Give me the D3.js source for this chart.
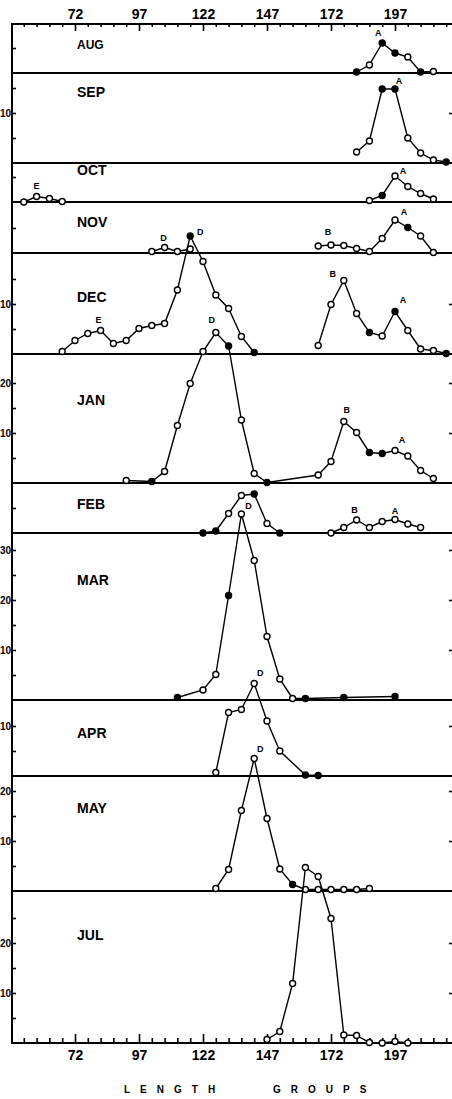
<!doctype html>
<html>
<head>
<meta charset="utf-8"/>
<script src="https://cdn.jsdelivr.net/npm/d3@7"></script>
<style>
	body { margin: 0; background: #fff; }
	svg { display: block; font-family: "Liberation Sans", Arial, sans-serif; }
	.tick text { font-weight: bold; }
</style>
</head>
<body>
<div id="chart"></div>
<script>
var width = 452, height = 1099;

// months, top panel first
var months = ["AUG", "SEP", "OCT", "NOV", "DEC", "JAN", "FEB", "MAR", "APR", "MAY", "JUL"];

// length group and percent frequency for each month (null = gap in the line)
// solid: 1 = filled circle, 0 = open circle
var augLen = [182, 187, 192, 197, 202, 207, 212];
var augPct = [0.2, 1.6, 6.0, 4.0, 3.2, 0.2, 0.3];
var augSolid = [1, 0, 1, 1, 0, 1, 0];

var sepLen = [182, 187, 192, 197, 202, 207, 212, 217];
var sepPct = [2.2, 4.4, 14.8, 14.8, 5.0, 2.0, 0.6, 0.2];
var sepSolid = [0, 0, 1, 1, 0, 0, 0, 1];

var octLen = [52, 57, 62, 67, 120, 187, 192, 197, 202, 207, 212];
var octPct = [0.0, 1.1, 0.7, 0.1, null, 0.3, 1.3, 5.2, 3.1, 1.7, 0.6];
var octSolid = [0, 0, 0, 0, 0, 0, 1, 0, 0, 0, 0];

var novLen = [102, 107, 112, 117, 140, 167, 172, 177, 182, 187, 192, 197, 202, 207, 212];
var novPct = [0.3, 1.1, 0.3, 0.8, null, 1.4, 1.6, 1.5, 0.9, 0.3, 2.9, 6.6, 5.1, 3.4, 0.1];
var novSolid = [0, 0, 0, 0, 0, 0, 0, 0, 0, 0, 0, 0, 1, 0, 0];

var decLen = [67, 72, 77, 82, 87, 92, 97, 102, 107, 112, 117, 122, 127, 132, 137, 142, 155,
	167, 172, 177, 182, 187, 192, 197, 202, 207, 212, 217];
var decPct = [0.5, 2.7, 4.1, 4.7, 2.1, 2.7, 5.1, 5.7, 6.1, 12.8, 23.6, 18.5, 11.8, 9.1, 3.5, 0.3, null,
	1.7, 9.9, 14.7, 8.1, 4.3, 3.6, 8.5, 4.7, 1.0, 0.7, 0.1];
var decSolid = [0, 0, 0, 0, 0, 0, 0, 0, 0, 0, 1, 0, 0, 0, 0, 1, 0,
	0, 0, 0, 0, 1, 0, 1, 0, 0, 0, 1];

var janLen = [92, 102, 107, 112, 117, 122, 127, 132, 137, 142, 147, 167, 172, 177, 182, 187, 192, 197, 202, 207, 212];
var janPct = [0.5, 0.3, 2.3, 11.5, 19.9, 26.3, 30.1, 27.4, 12.6, 1.9, 0.1, 1.6, 4.3, 12.3, 10.1, 6.1, 5.9, 6.5, 5.4, 2.5, 0.9];
var janSolid = [0, 1, 0, 0, 0, 0, 0, 1, 0, 0, 1, 0, 0, 0, 0, 1, 1, 0, 0, 0, 0];

var febLen = [122, 127, 132, 137, 142, 147, 152, 162, 172, 177, 182, 187, 192, 197, 202, 207];
var febPct = [0.0, 0.4, 3.9, 7.5, 7.8, 1.9, 0.0, null, 0.0, 1.1, 2.6, 1.1, 2.3, 2.7, 1.8, 1.1];
var febSolid = [1, 1, 0, 0, 1, 0, 1, 0, 0, 0, 0, 0, 0, 0, 0, 0];

var marLen = [112, 122, 127, 132, 137, 142, 147, 152, 157, 162, 177, 197];
var marPct = [0.5, 2.0, 5.1, 20.9, 37.2, 27.9, 12.7, 4.2, 0.3, 0.3, 0.5, 0.7];
var marSolid = [1, 0, 0, 1, 0, 0, 0, 0, 0, 1, 1, 1];

var aprLen = [127, 132, 137, 142, 147, 152, 162, 167];
var aprPct = [0.7, 12.7, 13.3, 18.5, 11.0, 5.0, 0.2, 0.1];
var aprSolid = [0, 0, 0, 0, 0, 0, 1, 1];

var mayLen = [127, 132, 137, 142, 147, 152, 157, 162, 167, 172, 177, 182, 187];
var mayPct = [0.5, 4.3, 16.1, 26.5, 14.5, 4.4, 1.3, 0.3, 0.3, 0.3, 0.3, 0.3, 0.5];
var maySolid = [0, 0, 0, 0, 0, 0, 1, 0, 0, 0, 0, 0, 0];

var julLen = [147, 152, 157, 162, 167, 172, 177, 182, 187, 192, 197, 202];
var julPct = [0.7, 2.3, 11.9, 35.1, 33.3, 24.9, 1.6, 1.5, 0.1, 0.0, 0.3, 0.0];
var julSolid = [0, 0, 0, 0, 0, 0, 0, 0, 0, 0, 0, 0];

// letters marking the modes
var peakMonth = ["AUG", "SEP", "OCT", "OCT", "NOV", "NOV", "NOV", "DEC", "DEC", "DEC", "DEC",
	"JAN", "JAN", "JAN", "FEB", "FEB", "MAR", "APR", "MAY"];
var peakLetter = ["A", "A", "E", "A", "D", "B", "A", "E", "D", "B", "A",
	"D", "B", "A", "B", "A", "D", "D", "D"];
var peakLen = [192, 197, 57, 197, 107, 172, 197, 82, 117, 177, 197,
	127, 177, 197, 182, 197, 137, 142, 142];

var xTickMajor = [72, 97, 122, 147, 172, 197];
var xTickMinor = [52, 57, 62, 67, 77, 82, 87, 92, 102, 107, 112, 117, 127, 132, 137, 142,
	152, 157, 162, 167, 177, 182, 187, 192, 202, 207, 212, 217];

var series = [
	{len: augLen, pct: augPct, solid: augSolid},
	{len: sepLen, pct: sepPct, solid: sepSolid},
	{len: octLen, pct: octPct, solid: octSolid},
	{len: novLen, pct: novPct, solid: novSolid},
	{len: decLen, pct: decPct, solid: decSolid},
	{len: janLen, pct: janPct, solid: janSolid},
	{len: febLen, pct: febPct, solid: febSolid},
	{len: marLen, pct: marPct, solid: marSolid},
	{len: aprLen, pct: aprPct, solid: aprSolid},
	{len: mayLen, pct: mayPct, solid: maySolid},
	{len: julLen, pct: julPct, solid: julSolid}
];

// ---- layout ----
var plotLeft = 12, plotRight = 452, plotTop = 24;
var pxPerUnit = 5;
// height of each panel, in percent units
var span = [9.8, 18, 7.8, 10.2, 20.2, 25.8, 10, 33.4, 15.2, 23, 30.4];
// month name: distance from top of panel to middle of text
var nameDrop = [21, 19, 7, 20, 44, 46, 21, 47, 33, 32, 44];
// letter offsets from their point
var peakDx = [-4, 4, 0, 8, -1, -3, 9, -2, 10, -11, 8, -4, 3, 7, -2, 0, 7, 6, 6];
var peakDy = [-10, -8, -11, -5, -10, -13, -8, -11, -4, -7, -12, -13, -12, -11, -10, -9, -8, -11, -10];

var base = [];
var acc = plotTop;
span.forEach(function(s) { acc += s * pxPerUnit; base.push(acc); });
var plotBottom = base[base.length - 1];

var x = d3.scaleLinear().domain([72, 197]).range([75, 395]);

var svg = d3.select("#chart").append("svg")
	.attr("width", width)
	.attr("height", height)
	.style("background", "#fff");

// frame lines
svg.append("line").attr("x1", plotLeft).attr("x2", plotRight).attr("y1", plotTop).attr("y2", plotTop)
	.attr("stroke", "#000").attr("stroke-width", 2);
svg.append("line").attr("x1", plotLeft).attr("x2", plotLeft).attr("y1", plotTop - 1).attr("y2", plotBottom + 1)
	.attr("stroke", "#000").attr("stroke-width", 2);

// top axis
svg.append("g").attr("transform", "translate(0," + plotTop + ")")
	.call(d3.axisTop(x).tickValues(xTickMinor).tickSize(-3).tickFormat(""));
svg.append("g").attr("transform", "translate(0," + plotTop + ")")
	.call(d3.axisTop(x).tickValues(xTickMajor).tickSize(-7).tickPadding(5))
	.style("font-size", "14px");

// bottom axis
svg.append("g").attr("transform", "translate(0," + plotBottom + ")")
	.call(d3.axisBottom(x).tickValues(xTickMinor).tickSize(-5).tickFormat(""));
svg.append("g").attr("transform", "translate(0," + plotBottom + ")")
	.call(d3.axisBottom(x).tickValues(xTickMajor).tickSize(-9).tickPadding(7))
	.style("font-size", "14px");

svg.selectAll(".domain").remove();
svg.selectAll(".tick line").attr("stroke", "#000").attr("stroke-width", 1.6);
svg.selectAll(".tick text").attr("fill", "#000");

var line = d3.line()
	.defined(function(d) { return d.p != null; })
	.x(function(d) { return x(d.l); })
	.y(function(d) { return d.y; });

months.forEach(function(m, i) {
	var b = base[i];
	var y = d3.scaleLinear().domain([0, span[i]]).range([b, b - span[i] * pxPerUnit]);

	// baseline of the panel
	svg.append("line").attr("x1", plotLeft).attr("x2", plotRight).attr("y1", b).attr("y2", b)
		.attr("stroke", "#000").attr("stroke-width", 2);

	// y ticks at left
	var tv = d3.range(5, span[i] - 1, 5);
	var ly = svg.append("g").attr("transform", "translate(" + plotLeft + ",0)")
		.call(d3.axisLeft(y).tickValues(tv).tickSize(-4).tickPadding(1)
			.tickFormat(function(d) { return d % 10 === 0 ? d : ""; }))
		.style("font-size", "10px");
	ly.select(".domain").remove();
	ly.selectAll(".tick line").attr("stroke", "#000").attr("stroke-width", 1.6);
	ly.selectAll(".tick text").attr("fill", "#000");

	// small marks at right edge
	var ry = svg.append("g").attr("transform", "translate(" + plotRight + ",0)")
		.call(d3.axisLeft(y).tickValues(tv.filter(function(d) { return d % 10 === 0; })).tickSize(3).tickFormat(""));
	ry.select(".domain").remove();
	ry.selectAll(".tick line").attr("stroke", "#000").attr("stroke-width", 1.6);

	// month name
	svg.append("text")
		.attr("x", 77)
		.attr("y", b - span[i] * pxPerUnit + nameDrop[i])
		.attr("dy", "0.36em")
		.style("font-size", i === 0 ? "12px" : "14px")
		.style("font-weight", "bold")
		.text(m);

	var s = series[i];
	var pts = s.len.map(function(l, k) {
		return {l: l, p: s.pct[k], y: s.pct[k] == null ? 0 : y(s.pct[k]), solid: s.solid[k]};
	});

	svg.append("path")
		.attr("d", line(pts))
		.attr("fill", "none")
		.attr("stroke", "#000")
		.attr("stroke-width", 1.4);

	svg.selectAll(null)
		.data(pts.filter(function(d) { return d.p != null; }))
		.enter()
		.append("circle")
		.attr("cx", function(d) { return x(d.l); })
		.attr("cy", function(d) { return d.y; })
		.attr("r", 3)
		.attr("fill", function(d) { return d.solid ? "#000" : "#fff"; })
		.attr("stroke", "#000")
		.attr("stroke-width", 1.4);

	// mode letters
	peakMonth.forEach(function(pm, j) {
		if (pm !== m) return;
		var k = s.len.indexOf(peakLen[j]);
		svg.append("text")
			.attr("x", x(peakLen[j]) + peakDx[j])
			.attr("y", y(s.pct[k]) + peakDy[j])
			.attr("dy", "0.36em")
			.attr("text-anchor", "middle")
			.style("font-size", "9px")
			.style("font-weight", "bold")
			.text(peakLetter[j]);
	});
});

// axis title
svg.append("text").attr("x", 124).attr("y", 1089).attr("dy", "0.36em")
	.style("font-size", "10px").style("font-weight", "bold").style("letter-spacing", "10px")
	.text("LENGTH");
svg.append("text").attr("x", 273).attr("y", 1089).attr("dy", "0.36em")
	.style("font-size", "10px").style("font-weight", "bold").style("letter-spacing", "10px")
	.text("GROUPS");
</script>
</body>
</html>
